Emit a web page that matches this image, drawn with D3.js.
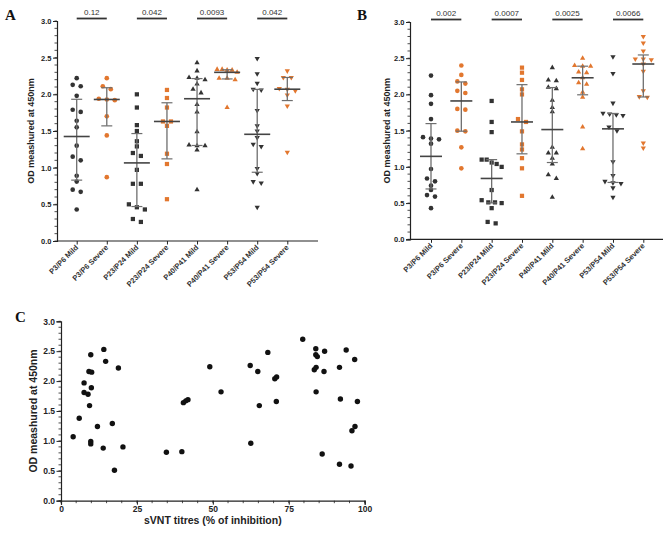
<!DOCTYPE html>
<html>
<head>
<meta charset="utf-8">
<script src="https://cdn.jsdelivr.net/npm/d3@7"></script>
<style>
  body { margin: 0; background: #fff; }
  svg { display: block; font-family: "Liberation Sans", Arial, sans-serif; }
</style>
</head>
<body>
<svg id="chart" width="666" height="534"></svg>
<script>
// ---- data ----
const groups = ["P3/P6 Mild", "P3/P6 Severe", "P23/P24 Mild", "P23/P24 Severe",
                "P40/P41 Mild", "P40/P41 Severe", "P53/P54 Mild", "P53/P54 Severe"];
const shapes = ["circle", "circle", "square", "square", "up", "up", "down", "down"];
const severity = ["mild", "severe", "mild", "severe", "mild", "severe", "mild", "severe"];

const valuesA = [
  [2.22, 2.11, 2.13, 1.98, 1.76, 1.79, 1.64, 1.55, 1.30, 1.15, 1.10, 0.89, 0.81, 0.70, 0.67, 0.43],
  [2.22, 2.11, 2.07, 1.94, 1.93, 1.92, 1.70, 1.44, 0.87],
  [2.00, 1.82, 1.58, 1.50, 1.36, 1.29, 1.20, 1.16, 0.97, 0.78, 0.78, 0.50, 0.46, 0.43, 0.30, 0.26],
  [2.06, 1.95, 1.82, 1.63, 1.63, 1.57, 1.19, 1.05, 0.57],
  [2.43, 2.32, 2.23, 2.22, 2.20, 2.14, 2.07, 2.02, 1.86, 1.76, 1.49, 1.31, 1.30, 1.30, 1.24, 0.70],
  [2.34, 2.34, 2.33, 2.33, 2.30, 2.22, 2.22, 2.20, 1.82],
  [2.49, 2.28, 2.15, 2.07, 2.06, 1.78, 1.57, 1.50, 1.41, 1.32, 1.29, 0.99, 0.92, 0.81, 0.79, 0.46],
  [2.32, 2.23, 2.23, 2.08, 2.07, 2.05, 1.99, 1.84, 1.21]
];
const pValuesA = ["0.12", "0.042", "0.0093", "0.042"];

const valuesB = [
  [2.26, 1.99, 1.87, 1.66, 1.41, 1.39, 1.38, 1.32, 0.97, 0.84, 0.80, 0.74, 0.68, 0.61, 0.59, 0.43],
  [2.40, 2.27, 2.18, 2.15, 2.05, 2.02, 1.80, 1.79, 1.50, 1.49, 1.27, 0.98],
  [1.91, 1.62, 1.48, 1.10, 1.10, 1.06, 1.04, 1.00, 0.68, 0.54, 0.51, 0.51, 0.50, 0.43, 0.24, 0.22],
  [2.37, 2.30, 2.20, 2.07, 2.00, 1.66, 1.62, 1.49, 1.31, 1.24, 1.12, 0.98, 0.60],
  [2.37, 2.20, 2.19, 2.10, 2.08, 1.92, 1.82, 1.76, 1.27, 1.19, 1.19, 1.12, 1.04, 0.89, 0.84, 0.58],
  [2.50, 2.40, 2.39, 2.39, 2.31, 2.30, 2.23, 2.16, 2.14, 2.03, 1.96, 1.55, 1.25],
  [2.52, 2.29, 1.88, 1.74, 1.73, 1.72, 1.71, 1.55, 1.50, 1.07, 0.88, 0.80, 0.78, 0.77, 0.71, 0.58],
  [2.80, 2.71, 2.60, 2.49, 2.49, 2.48, 2.42, 2.32, 2.05, 1.97, 1.96, 1.33, 1.26]
];
const pValuesB = ["0.002", "0.0007", "0.0025", "0.0066"];

const odTicks = [0, 0.5, 1.0, 1.5, 2.0, 2.5, 3.0];

// panel C: sVNT titre (% inhibition) vs OD
const sVNT = [4.0, 9.8, 14.1, 14.7, 18.9, 9.2, 10.1, 7.6, 10.0, 7.6, 8.9, 9.4, 6.0, 12.0, 16.9,
              9.8, 9.8, 13.9, 20.4, 17.6, 34.7, 39.8, 40.3, 41.1, 41.8, 49.0, 52.7, 62.5, 62.3,
              64.8, 68.1, 65.3, 70.4, 71.0, 70.9, 79.6, 83.9, 83.9, 84.4, 86.8, 83.4, 84.0, 86.6,
              84.0, 93.9, 96.7, 91.7, 92.0, 97.6, 96.8, 95.8, 86.0, 91.7, 95.5];
const odC = [1.07, 2.44, 2.53, 2.33, 2.22, 2.16, 2.15, 1.97, 1.89, 1.81, 1.78, 1.59, 1.38, 1.24, 1.29,
             0.99, 0.95, 0.88, 0.90, 0.51, 0.81, 0.82, 1.64, 1.67, 1.69, 2.24, 1.82, 0.96, 2.26,
             2.16, 2.48, 1.59, 2.04, 2.07, 1.66, 2.70, 2.54, 2.44, 2.41, 2.50, 2.19, 2.23, 2.16,
             1.82, 2.52, 2.36, 2.23, 1.70, 1.66, 1.24, 1.17, 0.78, 0.61, 0.58];
const sVNTTicks = [0, 25, 50, 75, 100];

// ---- drawing ----
const svg = d3.select("#chart");
const MILD = "#333333", SEVERE = "#e2772f";

// GraphPad style percentile ((n+1)p rule)
function percentile(vals, p) {
  const s = vals.slice().sort((a, b) => a - b);
  const n = s.length;
  const pos = (n + 1) * p;
  if (pos <= 1) return s[0];
  if (pos >= n) return s[n - 1];
  const lo = Math.floor(pos);
  return s[lo - 1] + (pos - lo) * (s[lo] - s[lo - 1]);
}

// spread points of a column sideways when they overlap vertically
function spread(vals, y, thresh) {
  const idx = vals.map((v, i) => i).sort((a, b) => vals[b] - vals[a]);
  const off = vals.map(() => 0);
  let cl = [idx[0]];
  const flush = () => {
    const n = cl.length;
    const s = n > 1 ? Math.min(8, 20 / (n - 1)) : 0;
    cl.forEach((k, j) => off[k] = (j - (n - 1) / 2) * s);
  };
  for (let i = 1; i < idx.length; i++) {
    if (Math.abs(y(vals[idx[i - 1]]) - y(vals[idx[i]])) < thresh) cl.push(idx[i]);
    else { flush(); cl = [idx[i]]; }
  }
  flush();
  return off;
}

const symbolPath = {
  circle: d3.symbol().type(d3.symbolCircle).size(17)(),
  square: d3.symbol().type(d3.symbolSquare).size(18)(),
  up: d3.symbol().type(d3.symbolTriangle).size(12)(),
  down: d3.symbol().type(d3.symbolTriangle).size(12)()
};

function yAxisWithMinor(g, y, x0, fontSize, majorLen) {
  const minor = d3.range(0, 3.0001, 0.1);
  g.append("g").selectAll("line").data(minor).join("line")
    .attr("x1", x0).attr("x2", x0 - 2.5)
    .attr("y1", d => y(d)).attr("y2", d => y(d))
    .attr("stroke", "#222").attr("stroke-width", 0.8);
  const ax = g.append("g").attr("transform", `translate(${x0},0)`)
    .call(d3.axisLeft(y).tickValues(odTicks).tickFormat(d3.format(".1f")).tickSize(majorLen).tickPadding(1.5));
  ax.select(".domain").attr("stroke", "#222").attr("stroke-width", 1.2);
  ax.selectAll(".tick line").attr("stroke", "#222").attr("stroke-width", 1);
  ax.selectAll(".tick text").attr("font-size", fontSize).attr("font-weight", "bold")
    .attr("fill", "#222").attr("font-family", "Liberation Sans, Arial, sans-serif");
}

function columnPanel(opt) {
  const g = svg.append("g");
  const y = d3.scaleLinear().domain([0, 3]).range([opt.yBot, opt.yTop]);
  const x = d3.scalePoint().domain(groups).range([opt.xFirst, opt.xLast]);

  // x axis
  g.append("line").attr("x1", opt.x0).attr("x2", opt.xEnd)
    .attr("y1", opt.yBot).attr("y2", opt.yBot).attr("stroke", "#222").attr("stroke-width", 1.2);
  const xa = g.append("g").attr("transform", `translate(0,${opt.yBot})`)
    .call(d3.axisBottom(x).tickSize(3.5).tickFormat(""));
  xa.select(".domain").remove();
  xa.selectAll(".tick line").attr("stroke", "#222");

  g.append("g").selectAll("text").data(groups).join("text")
    .attr("transform", d => `translate(${x(d) + 2},${opt.yBot + 7}) rotate(-45)`)
    .attr("text-anchor", "end")
    .attr("font-size", 7.5).attr("font-weight", "bold").attr("fill", "#333")
    .text(d => d);

  yAxisWithMinor(g, y, opt.x0, 7.5, 4);

  g.append("text")
    .attr("transform", `translate(${opt.titleX},${(opt.yTop + opt.yBot) / 2}) rotate(-90)`)
    .attr("text-anchor", "middle").attr("dy", "0.35em")
    .attr("font-size", 9).attr("font-weight", "bold").attr("fill", "#222")
    .text("OD meashured at 450nm");

  // columns
  opt.values.forEach((vals, i) => {
    const cx = x(groups[i]);
    const col = severity[i] === "mild" ? MILD : SEVERE;
    const q1 = percentile(vals, 0.25), med = percentile(vals, 0.5), q3 = percentile(vals, 0.75);
    const off = spread(vals, y, 4.2);

    g.append("g").selectAll("path").data(vals).join("path")
      .attr("d", symbolPath[shapes[i]])
      .attr("transform", (d, k) => `translate(${cx + off[k]},${y(d)})` + (shapes[i] === "down" ? " rotate(180)" : ""))
      .attr("fill", col);

    const eb = g.append("g").attr("stroke", "#6e6e6e");
    eb.append("line").attr("x1", cx).attr("x2", cx).attr("y1", y(q1)).attr("y2", y(q3)).attr("stroke-width", 1.3);
    eb.append("line").attr("x1", cx - 5.5).attr("x2", cx + 5.5).attr("y1", y(q1)).attr("y2", y(q1)).attr("stroke-width", 1.2);
    eb.append("line").attr("x1", cx - 5.5).attr("x2", cx + 5.5).attr("y1", y(q3)).attr("y2", y(q3)).attr("stroke-width", 1.2);
    eb.append("line").attr("x1", cx - opt.medHalf).attr("x2", cx + opt.medHalf).attr("y1", y(med)).attr("y2", y(med))
      .attr("stroke", "#444").attr("stroke-width", 1.6);
  });

  // p values
  opt.pValues.forEach((p, k) => {
    const xa1 = x(groups[2 * k]), xa2 = x(groups[2 * k + 1]);
    g.append("line").attr("x1", xa1).attr("x2", xa2)
      .attr("y1", opt.yTop - 2.5).attr("y2", opt.yTop - 2.5)
      .attr("stroke", "#333").attr("stroke-width", 1.8);
    g.append("text").attr("x", (xa1 + xa2) / 2).attr("y", opt.yTop - 6.5)
      .attr("text-anchor", "middle").attr("font-size", 8).attr("fill", "#333").text(p);
  });

  g.append("text").attr("x", opt.letterX).attr("y", 20)
    .attr("font-family", "Liberation Serif, Times New Roman, serif").attr("font-weight", "bold")
    .attr("font-size", 15).attr("fill", "#111").text(opt.letter);
}

columnPanel({ values: valuesA, pValues: pValuesA, letter: "A", letterX: 5,
  x0: 57, xEnd: 318, xFirst: 76.7, xLast: 287.3, yTop: 21, yBot: 241, titleX: 31, medHalf: 13 });
columnPanel({ values: valuesB, pValues: pValuesB, letter: "B", letterX: 357,
  x0: 410, xEnd: 663, xFirst: 431, xLast: 643.3, yTop: 22, yBot: 239.3, titleX: 387, medHalf: 11 });

// ---- panel C ----
(function () {
  const g = svg.append("g");
  const x0 = 61, x1 = 364.7, yTop = 321.3, yBot = 500.7;
  const x = d3.scaleLinear().domain([0, 100]).range([x0, x1]);
  const y = d3.scaleLinear().domain([0, 3]).range([yBot, yTop]);

  g.append("g").selectAll("line").data(d3.range(0, 100.1, 5)).join("line")
    .attr("x1", d => x(d)).attr("x2", d => x(d)).attr("y1", yBot).attr("y2", yBot + 2.5)
    .attr("stroke", "#222").attr("stroke-width", 0.8);
  const xa = g.append("g").attr("transform", `translate(0,${yBot})`)
    .call(d3.axisBottom(x).tickValues(sVNTTicks).tickSize(4).tickPadding(1));
  xa.select(".domain").attr("stroke", "#222").attr("stroke-width", 1.2);
  xa.selectAll(".tick line").attr("stroke", "#222");
  xa.selectAll(".tick text").attr("font-size", 8.5).attr("font-weight", "bold").attr("fill", "#222")
    .attr("font-family", "Liberation Sans, Arial, sans-serif");

  yAxisWithMinor(g, y, x0, 8.5, 4.5);

  g.append("text")
    .attr("transform", `translate(33,${(yTop + yBot) / 2}) rotate(-90)`)
    .attr("text-anchor", "middle").attr("dy", "0.35em")
    .attr("font-size", 10.5).attr("font-weight", "bold").attr("fill", "#222")
    .text("OD meashured at 450nm");
  g.append("text").attr("x", (x0 + x1) / 2).attr("y", 524)
    .attr("text-anchor", "middle")
    .attr("font-size", 10.5).attr("font-weight", "bold").attr("fill", "#222")
    .text("sVNT titres (% of inhibition)");

  g.append("g").selectAll("circle").data(sVNT).join("circle")
    .attr("cx", d => x(d)).attr("cy", (d, i) => y(odC[i])).attr("r", 2.7).attr("fill", "#111");

  g.append("text").attr("x", 15).attr("y", 322)
    .attr("font-family", "Liberation Serif, Times New Roman, serif").attr("font-weight", "bold")
    .attr("font-size", 15).attr("fill", "#111").text("C");
})();
</script>
</body>
</html>
